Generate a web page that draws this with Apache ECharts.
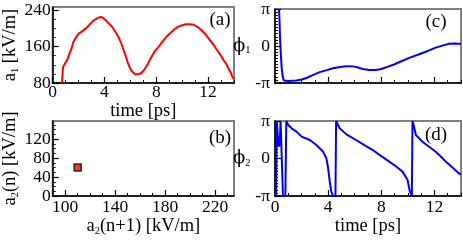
<!DOCTYPE html>
<html><head><meta charset="utf-8">
<script src="https://cdn.jsdelivr.net/npm/echarts@6/dist/echarts.min.js"></script>
<style>html,body{margin:0;padding:0;background:#fff}#c{width:463px;height:241px}</style>
</head><body><div id="c"></div>
<script>
// ---- data ----
const timeA = [0.72,0.8,0.9,1.05,1.15,1.3,1.45,1.6,1.8,2.0,2.3,2.55,2.75,2.9,3.1,3.3,3.5,3.7,3.9,4.1,4.3,4.6,4.9,5.1,5.35,5.6,5.8,6.0,6.2,6.4,6.6,6.85,7.1,7.35,7.6,7.9,8.2,8.5,8.8,9.1,9.4,9.7,10.0,10.3,10.6,10.9,11.2,11.5,11.8,12.1,12.4,12.7,13.0,13.2,13.4,13.6,13.75,13.9,14.0];
const a1 = [80,115,120,121,132,145,155,170,180,188,194,200,205,210,216,220,223,225,223,218,212,203,190,180,163,143,125,111,103,99,99,102,110,122,136,150,160,172,182,190,198,204,207,209,209,208,203,196,187,176,165,152,140,130,122,110,103,92,88];

const a2next = [110];
const a2n = [60];

const timeC = [0.3,0.34,0.37,0.42,0.5,0.58,0.67,0.8,1.0,1.3,1.62,2.0,2.37,2.8,3.37,3.9,4.37,4.9,5.36,5.86,6.2,6.6,7.1,7.6,8.0,8.36,9.0,9.6,10.2,10.85,11.5,12.1,12.6,13.1,13.5,13.85,14.0];
const phi1 = [3.14,2.2,0.97,-0.3,-1.81,-2.6,-2.92,-2.97,-2.98,-2.95,-2.92,-2.85,-2.72,-2.5,-2.22,-2.05,-1.89,-1.78,-1.72,-1.73,-1.8,-1.95,-2.03,-2.03,-1.95,-1.81,-1.55,-1.25,-0.97,-0.70,-0.42,-0.14,0.03,0.19,0.22,0.2,0.2];

const timeD = [0.08,0.14,0.2,0.25,0.3,0.36,0.42,0.5,0.6,0.78,0.85,1.0,1.25,1.62,2.0,2.62,3.12,3.62,3.87,4.0,4.12,4.24,4.37,4.55,4.6,4.87,5.4,6.1,6.7,7.36,8.0,8.6,9.1,9.6,9.98,10.15,10.3,10.35,10.48,10.6,11.1,11.6,12.1,12.5,12.85,13.4,13.85,14.0];
const phi2 = [-3.14,3.14,3.0,1.2,1.0,1.3,3.14,3.0,-3.14,-3.14,3.14,2.81,2.53,2.25,1.83,1.55,1.13,0.57,0.01,-0.82,-1.94,-2.78,-3.14,-3.14,3.14,2.53,2.0,1.55,1.15,0.71,0.2,-0.26,-0.65,-1.10,-1.8,-2.78,-3.14,3.14,2.6,1.97,1.41,0.98,0.57,0.15,-0.26,-0.8,-1.25,-1.35];

// ---- tick labels ----
const timeTicks = [0,4,8,12];
const a1Ticks = [80,160,240];
const bXTicks = [100,140,180,220];
const bYTicks = [0,40,80,120];
const phiTicks = [-Math.PI, 0, Math.PI];
const phiTickLabels = ['-π','0','π'];

const FONT = 'Liberation Serif';
const TICK_FS = 17.5, NAME_FS = 18.5;
function range(a, b, step){ const r=[]; for(let v=a; v<=b+1e-9; v+=step) r.push(+v.toFixed(6)); return r; }
function pairs(xs, ys){ return xs.map((x,i)=>[x, ys[i]]); }

const richName = {
  b:{fontSize:NAME_FS, fontFamily:FONT, color:'#000', lineHeight:20},
  g:{fontSize:18, fontFamily:'DejaVu Serif', color:'#000', lineHeight:20},
  s:{fontSize:10.5, fontFamily:FONT, color:'#000', lineHeight:8, verticalAlign:'bottom'}
};

function axisPair(kind, grid, min, max, majors, minors, opts){
  const labelFmt = opts.fmt || (v => String(v));
  const main = {
    type:'value', gridIndex:grid, min, max,
    position: kind==='x' ? 'bottom' : 'left',
    axisLine:{show:true, onZero:false, lineStyle:{color:'#000', width:1.5}},
    axisTick:{show:true, inside:true, length:3, customValues: minors, lineStyle:{color:'#000', width:1}},
    axisLabel:{show: opts.labels!==false, customValues: majors, formatter: labelFmt, margin: opts.margin, fontSize:TICK_FS, fontFamily:FONT, color:'#000'},
    splitLine:{show:false},
  };
  if (opts.name){
    Object.assign(main, {name: opts.name, nameLocation:'middle', nameGap: opts.nameGap, nameRotate: opts.nameRotate, nameTextStyle:{rich: richName}});
  }
  const major = {
    type:'value', gridIndex:grid, min, max,
    position: kind==='x' ? 'bottom' : 'left',
    axisLine:{show:false, onZero:false}, axisLabel:{show:false}, splitLine:{show:false},
    axisTick:{show:true, inside:true, length:6, customValues: majors, lineStyle:{color:'#000', width:1.2}}
  };
  return [main, major];
}

const phiFmt = v => { const i = phiTicks.findIndex(t => Math.abs(t - v) < 1e-6); return i>=0 ? phiTickLabels[i] : ''; };

const grids = [
  {left:49, top:7, width:185, height:76},
  {left:49, top:121, width:185, height:75},
  {left:275, top:7, width:186, height:76},
  {left:275, top:121, width:186, height:75},
].map(g => Object.assign(g, {show:true, borderColor:'#808080', borderWidth:2, backgroundColor:'transparent'}));

const xAxes = [
  ...axisPair('x',0,0,14,timeTicks,range(0,14,1),{margin:0, name:'{b|time [ps]}', nameGap:10}),
  ...axisPair('x',1,90,235,bXTicks,range(90,230,10),{margin:2, name:'{b|a}{s|2}{b|(n+1) [kV/m]}', nameGap:18}),
  ...axisPair('x',2,0,14,timeTicks,range(0,14,1),{labels:false}),
  ...axisPair('x',3,0,14,timeTicks,range(0,14,1),{margin:2, name:'{b|time [ps]}', nameGap:15}),
];
const yAxes = [
  ...axisPair('y',0,80,247,a1Ticks,range(80,240,20),{margin:2, name:'{b|a}{s|1}{b| [kV/m]}', nameGap:31, nameRotate:90}),
  ...axisPair('y',1,0,158,bYTicks,range(0,150,10),{margin:2, name:'{b|a}{s|2}{b|(n) [kV/m]}', nameGap:31, nameRotate:90}),
  ...axisPair('y',2,-Math.PI,Math.PI,phiTicks,range(-Math.PI,Math.PI,Math.PI/12),{margin:5, fmt:phiFmt, name:'{g|ϕ}{s|1}', nameGap:20, nameRotate:0}),
  ...axisPair('y',3,-Math.PI,Math.PI,phiTicks,range(-Math.PI,Math.PI,Math.PI/12),{margin:5, fmt:phiFmt, name:'{g|ϕ}{s|2}', nameGap:20, nameRotate:0}),
];

const letters = [['(a)',220,20],['(b)',220,138],['(c)',436,22],['(d)',436,135]];

const option = {
  animation:false,
  grid: grids,
  xAxis: xAxes,
  yAxis: yAxes,
  graphic: letters.map(([t,x,y]) => ({type:'text', x, y, style:{text:t, fontSize:19, fontFamily:FONT, fill:'#000', align:'center', verticalAlign:'middle'}})),
  series: [
    {type:'line', xAxisIndex:0, yAxisIndex:0, data:pairs(timeA,a1), showSymbol:false, lineStyle:{color:'#ff0000', width:2}, clip:true},
    {type:'scatter', xAxisIndex:2, yAxisIndex:2, data:pairs(a2next,a2n), symbol:'rect', symbolSize:7, itemStyle:{color:'#ff0000', borderColor:'#000', borderWidth:1.5}},
    {type:'line', xAxisIndex:4, yAxisIndex:4, data:pairs(timeC,phi1), showSymbol:false, lineStyle:{color:'#0000ff', width:2}, clip:true},
    {type:'line', xAxisIndex:6, yAxisIndex:6, data:pairs(timeD,phi2), showSymbol:false, lineStyle:{color:'#0000ff', width:2}, clip:true},
  ]
};
const chart = echarts.init(document.getElementById('c'), null, {renderer:'canvas'});
chart.setOption(option);
</script></body></html>
